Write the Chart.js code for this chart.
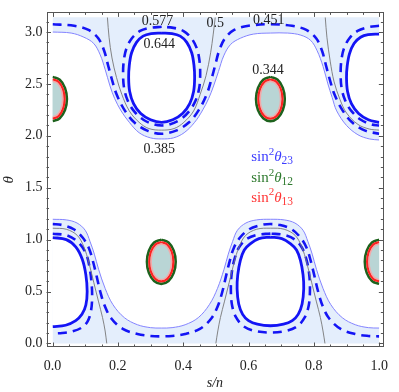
<!DOCTYPE html>
<html>
<head>
<meta charset="utf-8">
<script src="https://cdn.jsdelivr.net/npm/chart.js@4.4.1/dist/chart.umd.min.js"></script>
<style>
html, body { margin: 0; padding: 0; background: #fff; }
</style>
</head>
<body>
<canvas id="chart" width="399" height="392"></canvas>
<script>
// axis ticks
var xTickValues = [0, 0.2, 0.4, 0.6, 0.8, 1.0];
var xTickLabels = ['0.0', '0.2', '0.4', '0.6', '0.8', '1.0'];
var yTickValues = [0, 0.5, 1, 1.5, 2, 2.5, 3];
var yTickLabels = ['0.0', '0.5', '1.0', '1.5', '2.0', '2.5', '3.0'];

// contours, [s/n, theta]
// sin^2 theta23 = 0.385 (thin, edge of shaded band)
var thinTop = [[0,3.00],[0.057,2.99],[0.096,2.95],[0.126,2.89],[0.146,2.78],[0.161,2.64],[0.176,2.48],[0.19,2.36],[0.21,2.24],[0.235,2.13],[0.265,2.03],[0.3,1.98],[0.334,1.97],[0.37,1.98],[0.403,2.03],[0.435,2.13],[0.46,2.25],[0.478,2.36],[0.493,2.48],[0.508,2.62],[0.524,2.77],[0.545,2.88],[0.575,2.94],[0.615,2.98],[0.667,2.99],[0.72,2.99],[0.76,2.97],[0.79,2.92],[0.81,2.82],[0.828,2.67],[0.843,2.50],[0.856,2.37],[0.87,2.24],[0.9,2.10],[0.935,2.01],[0.97,1.97],[1.0,1.96]];
var thinBottom = [[0,1.196],[0.042,1.19],[0.075,1.16],[0.1,1.09],[0.115,0.98],[0.128,0.86],[0.141,0.714],[0.161,0.53],[0.185,0.373],[0.22,0.248],[0.26,0.18],[0.3,0.152],[0.333,0.148],[0.366,0.152],[0.406,0.18],[0.446,0.248],[0.48,0.373],[0.505,0.53],[0.525,0.714],[0.538,0.86],[0.551,0.98],[0.566,1.09],[0.592,1.16],[0.625,1.19],[0.667,1.196],[0.709,1.19],[0.742,1.16],[0.767,1.09],[0.782,0.98],[0.795,0.86],[0.808,0.714],[0.828,0.53],[0.852,0.373],[0.887,0.248],[0.927,0.18],[0.967,0.152],[1.0,0.148]];

// 0.5 (gray)
var grayTopA = [[0.168,3.14],[0.173,2.95],[0.182,2.75],[0.196,2.56],[0.212,2.40],[0.235,2.24],[0.265,2.13],[0.295,2.07],[0.334,2.055],[0.372,2.07],[0.402,2.13],[0.432,2.24],[0.452,2.40],[0.47,2.58],[0.484,2.80],[0.492,2.98],[0.498,3.14]];
var grayTopB = [[0.835,3.14],[0.84,2.95],[0.85,2.72],[0.862,2.52],[0.88,2.35],[0.9,2.22],[0.935,2.11],[0.97,2.065],[1.0,2.055]];
var grayBottomA = [[0,1.11],[0.042,1.10],[0.076,1.04],[0.096,0.93],[0.111,0.78],[0.126,0.59],[0.141,0.40],[0.153,0.25],[0.161,0.12],[0.166,0]];
var grayBottomB = [[0.5,0],[0.506,0.12],[0.514,0.25],[0.526,0.40],[0.541,0.59],[0.556,0.78],[0.571,0.93],[0.591,1.04],[0.625,1.10],[0.667,1.11],[0.709,1.10],[0.743,1.04],[0.763,0.93],[0.778,0.78],[0.793,0.59],[0.808,0.40],[0.82,0.25],[0.828,0.12],[0.834,0]];

// 0.644 (solid)
var solidTopA = [[0.334,2.99],[0.302,2.985],[0.277,2.96],[0.257,2.9],[0.242,2.8],[0.235,2.68],[0.233,2.56],[0.236,2.43],[0.248,2.31],[0.27,2.215],[0.3,2.155],[0.334,2.13],[0.368,2.155],[0.398,2.215],[0.42,2.31],[0.432,2.43],[0.435,2.56],[0.433,2.68],[0.426,2.8],[0.411,2.9],[0.391,2.96],[0.366,2.985],[0.334,2.99]];
var solidTopB = [[1.0,2.98],[0.966,2.975],[0.943,2.95],[0.923,2.89],[0.909,2.79],[0.902,2.67],[0.9,2.56],[0.903,2.43],[0.915,2.31],[0.937,2.215],[0.967,2.155],[1.0,2.13]];
var solidBottomA = [[0,1.02],[0.042,1.0],[0.071,0.93],[0.091,0.81],[0.102,0.66],[0.106,0.50],[0.102,0.37],[0.09,0.28],[0.071,0.22],[0.04,0.175],[0,0.162]];
var solidBottomB = [[0.667,1.025],[0.632,1.01],[0.605,0.96],[0.587,0.90],[0.575,0.80],[0.567,0.66],[0.565,0.527],[0.57,0.38],[0.582,0.28],[0.6,0.22],[0.627,0.185],[0.667,0.17],[0.707,0.185],[0.734,0.22],[0.752,0.28],[0.764,0.38],[0.769,0.527],[0.767,0.66],[0.759,0.80],[0.747,0.90],[0.729,0.96],[0.702,1.01],[0.667,1.025]];

// 0.577 (inner dashed)
var dashTopA = [[0.334,3.05],[0.298,3.04],[0.268,3.01],[0.243,2.94],[0.226,2.84],[0.218,2.72],[0.216,2.59],[0.219,2.46],[0.23,2.34],[0.25,2.235],[0.278,2.155],[0.31,2.11],[0.334,2.1],[0.358,2.11],[0.39,2.155],[0.418,2.235],[0.438,2.34],[0.449,2.46],[0.452,2.59],[0.45,2.72],[0.442,2.84],[0.425,2.94],[0.4,3.01],[0.37,3.04],[0.334,3.05]];
var dashTopB = [[1.0,3.06],[0.964,3.045],[0.934,3.01],[0.909,2.94],[0.892,2.84],[0.884,2.72],[0.882,2.59],[0.885,2.46],[0.896,2.34],[0.916,2.235],[0.944,2.155],[0.976,2.11],[1.0,2.1]];
var dashBottomA = [[0,1.056],[0.045,1.04],[0.08,0.97],[0.103,0.86],[0.114,0.72],[0.12,0.56],[0.121,0.42],[0.117,0.3],[0.107,0.21],[0.088,0.15],[0.06,0.115],[0.03,0.1],[0,0.096]];
var dashBottomB = [[0.667,1.058],[0.625,1.045],[0.592,1.0],[0.57,0.92],[0.556,0.80],[0.548,0.66],[0.546,0.5],[0.55,0.36],[0.562,0.25],[0.585,0.165],[0.62,0.12],[0.667,0.105],[0.714,0.12],[0.749,0.165],[0.772,0.25],[0.784,0.36],[0.788,0.5],[0.786,0.66],[0.778,0.80],[0.764,0.92],[0.742,1.0],[0.709,1.045],[0.667,1.058]];

// 0.451 (outer dashed)
var outerTop = [[0,3.075],[0.066,3.06],[0.11,3.02],[0.14,2.94],[0.158,2.82],[0.17,2.68],[0.182,2.54],[0.196,2.40],[0.22,2.25],[0.25,2.13],[0.29,2.05],[0.334,2.02],[0.378,2.05],[0.418,2.13],[0.448,2.25],[0.472,2.40],[0.486,2.54],[0.498,2.68],[0.51,2.82],[0.528,2.94],[0.556,3.02],[0.6,3.06],[0.667,3.075],[0.733,3.06],[0.777,3.02],[0.807,2.94],[0.825,2.82],[0.837,2.68],[0.849,2.54],[0.863,2.40],[0.887,2.25],[0.917,2.13],[0.957,2.05],[1.0,2.02]];
var outerBottom = [[0,1.15],[0.03,1.14],[0.065,1.1],[0.092,1.02],[0.111,0.92],[0.123,0.80],[0.134,0.66],[0.146,0.50],[0.16,0.36],[0.18,0.24],[0.215,0.14],[0.26,0.09],[0.3,0.072],[0.333,0.068],[0.366,0.072],[0.406,0.09],[0.451,0.14],[0.486,0.24],[0.506,0.36],[0.52,0.50],[0.532,0.66],[0.543,0.80],[0.555,0.92],[0.574,1.02],[0.602,1.1],[0.637,1.14],[0.667,1.15],[0.697,1.14],[0.732,1.1],[0.759,1.02],[0.778,0.92],[0.79,0.80],[0.801,0.66],[0.813,0.50],[0.827,0.36],[0.847,0.24],[0.882,0.14],[0.927,0.09],[0.967,0.072],[1.0,0.068]];

// sin^2 theta12 / theta13 allowed regions: centres and outlines (offsets from centre)
var blobCenters = [[0, 2.355], [0.333, 0.787], [0.667, 2.355], [1.0, 0.787]];
var green12 = [[0,0.213],[0.022,0.185],[0.038,0.107],[0.044,0],[0.038,-0.107],[0.022,-0.185],[0,-0.213],[-0.022,-0.185],[-0.038,-0.107],[-0.044,0],[-0.038,0.107],[-0.022,0.185],[0,0.213]];
var red13 = [[0,0.19],[0.0185,0.165],[0.032,0.095],[0.037,0],[0.032,-0.095],[0.0185,-0.165],[0,-0.19],[-0.0185,-0.165],[-0.032,-0.095],[-0.037,0],[-0.032,0.095],[-0.0185,0.165],[0,0.19]];
var pink13 = [[0,0.172],[0.0155,0.149],[0.027,0.086],[0.031,0],[0.027,-0.086],[0.0155,-0.149],[0,-0.172],[-0.0155,-0.149],[-0.027,-0.086],[-0.031,0],[-0.027,0.086],[-0.0155,0.149],[0,0.172]];

// contour labels
var contourLabels = ['0.577', '0.644', '0.385', '0.5', '0.451', '0.344'];
var contourLabelPos = [[0.321,3.10],[0.327,2.88],[0.327,1.87],[0.498,3.085],[0.662,3.115],[0.66,2.63]];

// legend
var legendSubs = ['23', '12', '13'];
var legendColors = ['#3c3cff', '#2e7a2e', '#ff3535'];
var legendX = 0.608;
var legendY = [1.755, 1.553, 1.366];

var BLUE = '#1414f5';
var THIN = '#8484ff';
var SHADE = '#e4eefc';
var SERIF = '"Liberation Serif", "Times New Roman", serif';

function pts(a) {
    return a.map(function(p) { return { x: p[0], y: p[1] }; });
}

var edgeClip = { left: -6, right: -4, top: 0, bottom: 0 };

function curve(data, color, width, opts) {
    var ds = {
        data: pts(data),
        borderColor: color,
        borderWidth: width,
        pointRadius: 0,
        tension: 0.35,
        fill: false,
        clip: edgeClip,
        order: 5
    };
    for (var k in opts) ds[k] = opts[k];
    return ds;
}

function blob(outline, c) {
    var part = outline;
    if (c[0] <= 0) part = outline.slice(0, 7);
    if (c[0] >= 1) part = outline.slice(6);
    return part.map(function(o) { return [c[0] + o[0], c[1] + o[1]]; });
}

var datasets = [
    curve(thinTop, THIN, 1, { fill: { value: Math.PI }, backgroundColor: SHADE, order: 10 }),
    curve(thinBottom, THIN, 1, { fill: 'origin', backgroundColor: SHADE, order: 10 }),
    curve(solidTopA, BLUE, 2.8, { fill: 'shape', backgroundColor: '#fff', order: 6 }),
    curve(solidTopB, BLUE, 2.8, { fill: 'shape', backgroundColor: '#fff', order: 6 }),
    curve(solidBottomA, BLUE, 2.8, { fill: 'shape', backgroundColor: '#fff', order: 6 }),
    curve(solidBottomB, BLUE, 2.8, { fill: 'shape', backgroundColor: '#fff', order: 6 }),
    curve(grayTopA, '#777', 0.9, {}),
    curve(grayTopB, '#777', 0.9, {}),
    curve(grayBottomA, '#777', 0.9, {}),
    curve(grayBottomB, '#777', 0.9, {}),
    curve(dashTopA, BLUE, 2.6, { borderDash: [9, 6] }),
    curve(dashTopB, BLUE, 2.6, { borderDash: [9, 6] }),
    curve(dashBottomA, BLUE, 2.6, { borderDash: [9, 6] }),
    curve(dashBottomB, BLUE, 2.6, { borderDash: [9, 6] }),
    curve(outerTop, BLUE, 2.6, { borderDash: [9, 6] }),
    curve(outerBottom, BLUE, 2.6, { borderDash: [9, 6] })
];

blobCenters.forEach(function(c) {
    datasets.push(curve(blob(green12, c), '#1d621d', 2.6, { tension: 0.45, order: 3 }));
    datasets.push(curve(blob(red13, c), '#ff2222', 2.2, { tension: 0.45, fill: 'shape', backgroundColor: '#b9d5d5', order: 2 }));
    datasets.push(curve(blob(pink13, c), 'rgba(255,160,160,0.85)', 1.4, { tension: 0.45, order: 1 }));
});

// frame with inward ticks on all sides, plus labels drawn in data coordinates
var framePlugin = {
    id: 'frame',
    afterDatasetsDraw: function(chart) {
        var ctx = chart.ctx;
        var xs = chart.scales.x, ys = chart.scales.y;
        ctx.save();
        ctx.fillStyle = '#222';
        ctx.font = '14px ' + SERIF;
        ctx.textAlign = 'center';
        ctx.textBaseline = 'middle';
        contourLabels.forEach(function(t, i) {
            ctx.fillText(t, xs.getPixelForValue(contourLabelPos[i][0]), ys.getPixelForValue(contourLabelPos[i][1]));
        });

        ctx.textAlign = 'left';
        ctx.textBaseline = 'alphabetic';
        legendSubs.forEach(function(sub, i) {
            var x = xs.getPixelForValue(legendX);
            var y = ys.getPixelForValue(legendY[i]);
            ctx.fillStyle = legendColors[i];
            ctx.font = '15px ' + SERIF;
            ctx.fillText('sin', x, y);
            x += ctx.measureText('sin').width;
            ctx.font = '11px ' + SERIF;
            ctx.fillText('2', x, y - 6.5);
            x += ctx.measureText('2').width;
            ctx.font = 'italic 15px ' + SERIF;
            ctx.fillText('\u03b8', x, y);
            x += ctx.measureText('\u03b8').width;
            ctx.font = '11.5px ' + SERIF;
            ctx.fillText(sub, x, y + 3);
        });
        ctx.restore();
    },
    afterDraw: function(chart) {
        var ctx = chart.ctx;
        var a = chart.chartArea;
        var xs = chart.scales.x, ys = chart.scales.y;
        ctx.save();
        ctx.strokeStyle = '#555';
        ctx.lineWidth = 1;
        ctx.strokeRect(Math.round(a.left) + 0.5, Math.round(a.top) + 0.5, Math.round(a.right - a.left) - 1, Math.round(a.bottom - a.top) - 1);
        ctx.beginPath();
        var i, v, p, len;
        for (i = 0; i <= 20; i++) {
            v = i * 0.05;
            p = Math.round(xs.getPixelForValue(v)) + 0.5;
            len = (i % 4 === 0) ? 4.5 : 2.5;
            ctx.moveTo(p, a.bottom); ctx.lineTo(p, a.bottom - len);
            ctx.moveTo(p, a.top); ctx.lineTo(p, a.top + len);
        }
        for (i = 0; i <= 31; i++) {
            v = i * 0.1;
            p = Math.round(ys.getPixelForValue(v)) + 0.5;
            len = (i % 5 === 0) ? 4.5 : 2.5;
            ctx.moveTo(a.left, p); ctx.lineTo(a.left + len, p);
            ctx.moveTo(a.right, p); ctx.lineTo(a.right - len, p);
        }
        ctx.stroke();
        ctx.restore();
    }
};

new Chart(document.getElementById('chart'), {
    type: 'line',
    data: { datasets: datasets },
    plugins: [framePlugin],
    options: {
        responsive: false,
        animation: false,
        devicePixelRatio: 1,
        events: [],
        layout: { padding: { top: 1, right: 6, left: 0, bottom: 0 } },
        plugins: {
            legend: { display: false },
            tooltip: { enabled: false }
        },
        scales: {
            x: {
                type: 'linear',
                min: -0.0185,
                max: 1.0128,
                grid: { display: false, drawTicks: false },
                border: { display: false },
                afterFit: function(s) { s.height = 45; },
                afterBuildTicks: function(s) {
                    s.ticks = xTickValues.map(function(v) { return { value: v }; });
                },
                ticks: {
                    autoSkip: false,
                    maxRotation: 0,
                    padding: 11,
                    color: '#222',
                    font: { family: SERIF, size: 14 },
                    callback: function(v) { return xTickLabels[xTickValues.indexOf(v)]; }
                },
                title: {
                    display: true,
                    text: 's/n',
                    color: '#222',
                    font: { family: SERIF, size: 14, style: 'italic' },
                    padding: { top: 0, bottom: 0 }
                }
            },
            y: {
                type: 'linear',
                min: -0.0345,
                max: 3.189,
                grid: { display: false, drawTicks: false },
                border: { display: false },
                afterFit: function(s) { s.width = 46.5; },
                afterBuildTicks: function(s) {
                    s.ticks = yTickValues.map(function(v) { return { value: v }; });
                },
                ticks: {
                    autoSkip: false,
                    padding: 4,
                    color: '#222',
                    font: { family: SERIF, size: 14 },
                    callback: function(v) { return yTickLabels[yTickValues.indexOf(v)]; }
                },
                title: {
                    display: true,
                    text: '\u03b8',
                    color: '#222',
                    font: { family: SERIF, size: 15, style: 'italic' },
                    padding: { top: 0, bottom: 0 }
                }
            }
        }
    }
});
</script>
</body>
</html>
